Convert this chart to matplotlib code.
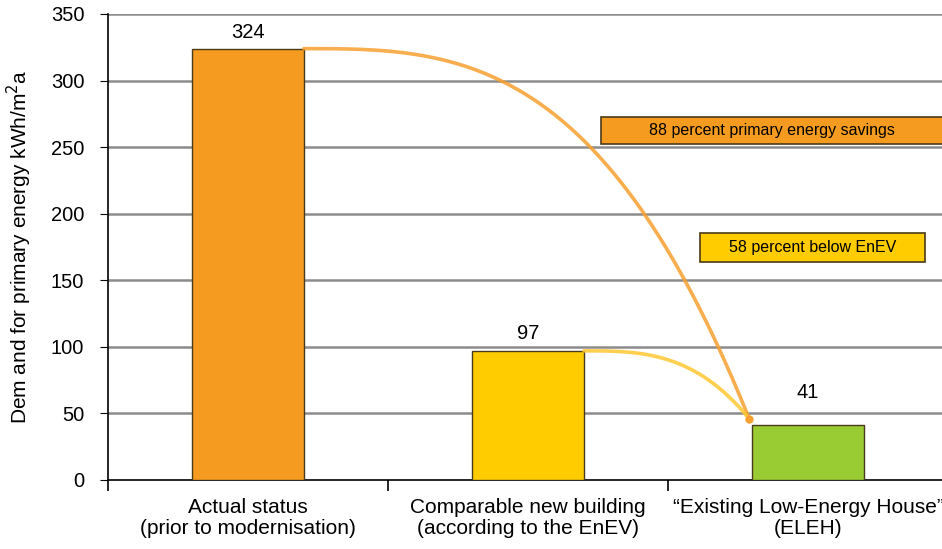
import numpy as np
import matplotlib
matplotlib.use("Agg")
import matplotlib.pyplot as plt
from matplotlib.patches import Rectangle

plt.rcParams['font.family'] = ['Liberation Sans', 'DejaVu Sans']

categories = ["Actual status\n(prior to modernisation)",
              "Comparable new building\n(according to the EnEV)",
              "\u201cExisting Low-Energy House\u201d\n(ELEH)"]
values = [324, 97, 41]
colors = ["#F59C20", "#FFCC00", "#99CC33"]
savings_text = "88 percent primary energy savings"
below_text = "58 percent below EnEV"
yticks = [0, 50, 100, 150, 200, 250, 300, 350]

bar_w = 0.4

fig = plt.figure(figsize=(9.42, 5.49), dpi=100)
ax = fig.add_axes([0.1146, 0.1257, 0.8917, 0.8488])

x = np.arange(len(values))
ax.bar(x, values, width=bar_w, color=colors, edgecolor="#4a3a1a",
       linewidth=1.0, zorder=3)

# horizontal grid
for v in yticks[1:]:
    ax.axhline(v, color="#8c8c8c", lw=1.8, zorder=1)

# value labels
offsets = [12, 13, 25]
for xi, v, off in zip(x, values, offsets):
    ax.text(xi, v + off, str(v), ha="center", va="center", fontsize=14.5)

# curved connectors from bar tops to the low-energy house bar
end_x = x[2] - bar_w / 2 - 0.01
end_y = values[2] + 5


def connector(x0, y0, color):
    u = np.linspace(0, 1, 200)
    xs = x0 + (end_x - x0) * u
    ys = end_y + (y0 - end_y) * (1 - u ** 3)
    ax.plot(xs, ys, color=color, lw=2.6, alpha=0.85, zorder=4,
            solid_capstyle="round")


connector(x[0] + bar_w / 2, values[0], "#F7A030")
connector(x[1] + bar_w / 2, values[1], "#FFC830")
ax.plot(end_x, end_y, marker="o", ms=5, color="#F7A030", zorder=5)

# annotation boxes
ax.add_patch(Rectangle((1.26, 252), 1.4, 21, facecolor="#F59C20",
                       edgecolor="#4a3a1a", lw=1.2, zorder=5))
ax.text(1.87, 262.5, savings_text, ha="center", va="center",
        fontsize=11.5, zorder=6)
ax.add_patch(Rectangle((1.614, 164), 0.804, 21.5, facecolor="#FFCC00",
                       edgecolor="#4a3a1a", lw=1.2, zorder=5))
ax.text(2.016, 174.7, below_text, ha="center", va="center",
        fontsize=11.5, zorder=6)

ax.set_xlim(-0.5, 2.5)
ax.set_ylim(0, 350)
ax.set_yticks(yticks)
ax.tick_params(axis="y", labelsize=14.5, length=6, direction="out", pad=11)
ax.set_xticks(x)
ax.set_xticklabels(categories, fontsize=15, linespacing=1.1)
ax.set_xticks([-0.5, 0.5, 1.5, 2.5], minor=True)
ax.tick_params(axis="x", which="major", length=0, pad=13)
ax.tick_params(axis="x", which="minor", length=8, width=1.2)

for s in ["top", "right"]:
    ax.spines[s].set_visible(False)
ax.spines["left"].set_linewidth(1.2)
ax.spines["bottom"].set_linewidth(1.2)

ax.set_ylabel("Dem and for primary energy kWh/m$^2$a", fontsize=15)
ax.yaxis.set_label_coords(-0.088, 0.5)

fig.savefig("out.png", dpi=100)
